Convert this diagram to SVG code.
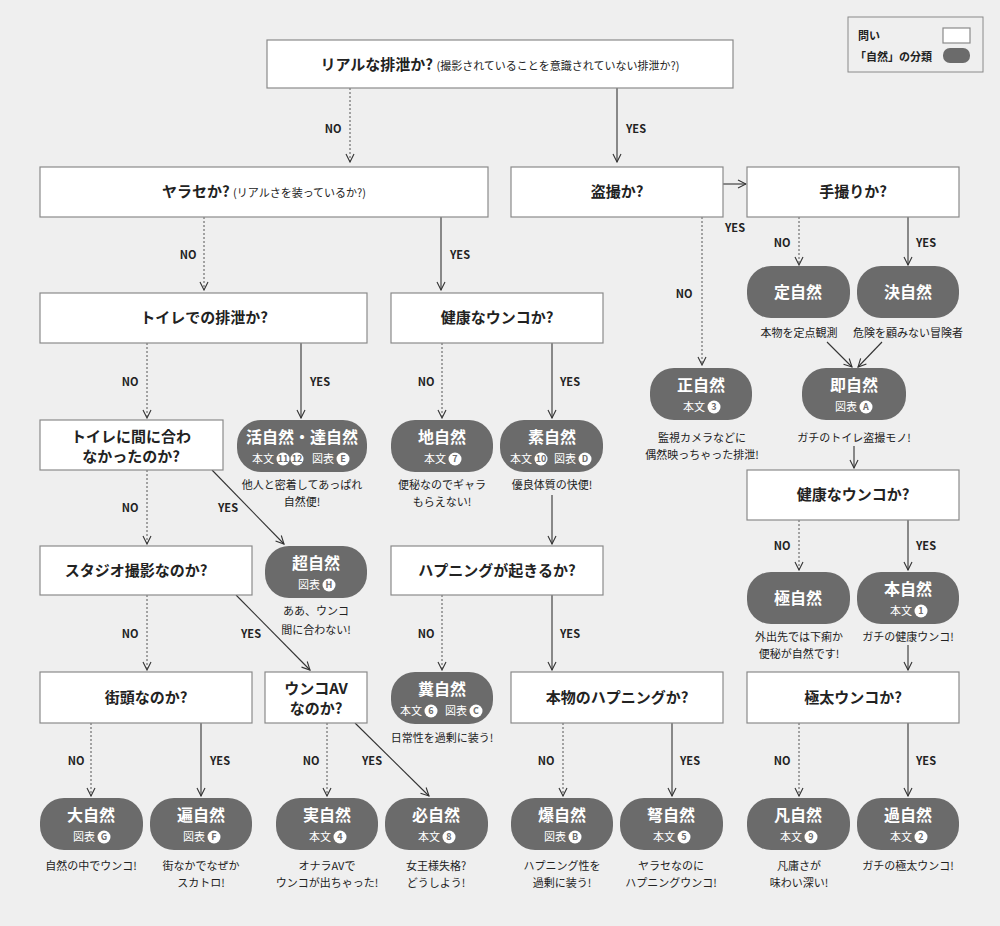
<svg xmlns="http://www.w3.org/2000/svg" width="1000" height="926" viewBox="0 0 1000 926">
<defs>
<marker id="ah" markerWidth="10" markerHeight="10" refX="9" refY="5" orient="auto" markerUnits="userSpaceOnUse"><path d="M1,1 L9,5 L1,9" fill="none" stroke="#333" stroke-width="1.1"/></marker>
<style>
text{font-family:"Noto Sans CJK JP","Noto Sans",sans-serif}
.q{fill:#fff;stroke:#8a8a8a;stroke-width:1.2}
.p{fill:#6b6b6b}
.qt{font-size:15px;font-weight:bold;fill:#222;text-anchor:middle}
.qs{font-size:11px;fill:#222}
.pt{font-size:16px;font-weight:bold;fill:#fff;text-anchor:middle}
.ps{font-size:11px;fill:#fff;text-anchor:middle}
.cn{font-size:9px;font-weight:bold;fill:#6b6b6b;text-anchor:middle}
.cap{font-size:11px;fill:#222;text-anchor:middle}
.lb{font-size:11px;font-weight:bold;fill:#222;text-anchor:middle}
.s{stroke:#333;stroke-width:1.1;fill:none;marker-end:url(#ah)}
.d{stroke:#555;stroke-width:1;stroke-dasharray:2,2;fill:none;marker-end:url(#ah)}
</style>
</defs>
<rect width="1000" height="926" fill="#efefef"/>
<g id="legend">
<rect x="848" y="17" width="135" height="55" fill="#efefef" stroke="#8a8a8a"/>
<text x="858" y="40" class="qs" font-weight="bold">問い</text>
<rect x="943" y="28" width="27" height="15" class="q"/>
<text x="855" y="61" class="qs" font-weight="bold">「自然」の分類</text>
<rect x="943" y="48" width="27" height="15" rx="7" class="p"/>
</g>
<g id="connectors">
<path class="d" d="M350,88V162"/><path class="s" d="M617,88V162"/>
<path class="s" d="M723,184H746"/>
<path class="d" d="M204,217V290"/><path class="s" d="M441,217V290"/>
<path class="d" d="M702,217V365"/>
<path class="d" d="M799,217V265"/><path class="s" d="M908,217V265"/>
<path class="s" d="M827,342L852,367"/><path class="s" d="M882,342L858,367"/>
<path class="d" d="M147,343V418"/><path class="s" d="M301,343V418"/>
<path class="d" d="M442,343V418"/><path class="s" d="M552,343V418"/>
<path class="s" d="M854,446V468"/>
<path class="d" d="M147,470V544"/><path class="s" d="M212,470L284,544"/>
<path class="s" d="M552,495V544"/>
<path class="d" d="M799,520V570"/><path class="s" d="M908,520V570"/>
<path class="d" d="M147,595V670"/><path class="s" d="M236,595L310,670"/>
<path class="d" d="M442,595V670"/><path class="s" d="M552,595V670"/>
<path class="s" d="M908,645V670"/>
<path class="d" d="M91,723V796"/><path class="s" d="M201,723V796"/>
<path class="d" d="M327,723V796"/><path class="s" d="M355,723L429,796"/>
<path class="d" d="M563,723V796"/><path class="s" d="M672,723V796"/>
<path class="d" d="M799,723V796"/><path class="s" d="M908,723V796"/>
<g class="lb">
<text x="333" y="133">NO</text><text x="636" y="133">YES</text>
<text x="188" y="259">NO</text><text x="460" y="259">YES</text>
<text x="735" y="232">YES</text><text x="684" y="298">NO</text>
<text x="782" y="247">NO</text><text x="926" y="247">YES</text>
<text x="130" y="386">NO</text><text x="320" y="386">YES</text>
<text x="426" y="386">NO</text><text x="570" y="386">YES</text>
<text x="130" y="512">NO</text><text x="228" y="512">YES</text>
<text x="782" y="550">NO</text><text x="926" y="550">YES</text>
<text x="130" y="638">NO</text><text x="251" y="638">YES</text>
<text x="426" y="638">NO</text><text x="570" y="638">YES</text>
<text x="76" y="765">NO</text><text x="220" y="765">YES</text>
<text x="311" y="765">NO</text><text x="372" y="765">YES</text>
<text x="546" y="765">NO</text><text x="690" y="765">YES</text>
<text x="782" y="765">NO</text><text x="926" y="765">YES</text>
</g>
</g>
<g id="q1"><rect x="267" y="40" width="466" height="48" class="q"/><text x="500" y="70" class="qt">リアルな排泄か? <tspan class="qs" font-weight="normal">(撮影されていることを意識されていない排泄か?)</tspan></text></g>
<g id="q2"><rect x="40" y="167" width="448" height="50" class="q"/><text x="264" y="197" class="qt">ヤラセか? <tspan class="qs" font-weight="normal">(リアルさを装っているか?)</tspan></text></g>
<g id="q3"><rect x="511" y="167" width="212" height="50" class="q"/><text x="617" y="197" class="qt">盗撮か?</text></g>
<g id="q4"><rect x="747" y="167" width="212" height="50" class="q"/><text x="853" y="197" class="qt">手撮りか?</text></g>
<g id="q5"><rect x="40" y="293" width="327" height="50" class="q"/><text x="204" y="323" class="qt">トイレでの排泄か?</text></g>
<g id="q6"><rect x="391" y="293" width="212" height="50" class="q"/><text x="497" y="323" class="qt">健康なウンコか?</text></g>
<g id="q7"><rect x="40" y="420" width="183" height="50" class="q"/><text x="131" y="442" class="qt">トイレに間に合わ</text><text x="131" y="462" class="qt">なかったのか?</text></g>
<g id="q8"><rect x="747" y="470" width="212" height="50" class="q"/><text x="853" y="500" class="qt">健康なウンコか?</text></g>
<g id="q9"><rect x="40" y="546" width="212" height="49" class="q"/><text x="136" y="576" class="qt">スタジオ撮影なのか?</text></g>
<g id="q10"><rect x="391" y="546" width="212" height="49" class="q"/><text x="497" y="576" class="qt">ハプニングが起きるか?</text></g>
<g id="q11"><rect x="40" y="672" width="212" height="51" class="q"/><text x="146" y="703" class="qt">街頭なのか?</text></g>
<g id="q12"><rect x="265" y="672" width="102" height="51" class="q"/><text x="316" y="694" class="qt">ウンコAV</text><text x="316" y="714" class="qt">なのか?</text></g>
<g id="q13"><rect x="511" y="672" width="212" height="51" class="q"/><text x="617" y="703" class="qt">本物のハプニングか?</text></g>
<g id="q14"><rect x="747" y="672" width="212" height="51" class="q"/><text x="853" y="703" class="qt">極太ウンコか?</text></g>

<g id="n-tei"><rect x="747" y="266" width="103" height="52" rx="24" class="p"/><text x="798" y="298" class="pt">定自然</text><text x="799" y="337" class="cap">本物を定点観測</text></g>
<g id="n-ketsu"><rect x="857" y="266" width="102" height="52" rx="24" class="p"/><text x="908" y="298" class="pt">決自然</text><text x="908" y="337" class="cap">危険を顧みない冒険者</text></g>
<g id="n-sei"><rect x="650" y="368" width="102" height="52" rx="24" class="p"/><text x="701" y="391" class="pt">正自然</text><text x="694" y="411" class="ps">本文</text><circle cx="714" cy="407" r="6.5" fill="#fff"/><text x="714" y="410" class="cn">3</text>
<text x="702" y="442" class="cap">監視カメラなどに</text><text x="702" y="459" class="cap">偶然映っちゃった排泄!</text></g>
<g id="n-soku"><rect x="802" y="368" width="104" height="52" rx="24" class="p"/><text x="854" y="391" class="pt">即自然</text><text x="846" y="411" class="ps">図表</text><circle cx="866" cy="407" r="6.5" fill="#fff"/><text x="866" y="410" class="cn">A</text>
<text x="854" y="442" class="cap">ガチのトイレ盗撮モノ!</text></g>
<g id="n-katsu"><rect x="237" y="420" width="130" height="52" rx="24" class="p"/><text x="302" y="443" class="pt">活自然・達自然</text><text x="263" y="463" class="ps">本文</text><circle cx="283" cy="459" r="6.5" fill="#fff"/><text x="283" y="462" class="cn">11</text><circle cx="297" cy="459" r="6.5" fill="#fff"/><text x="297" y="462" class="cn">12</text><text x="323" y="463" class="ps">図表</text><circle cx="343" cy="459" r="6.5" fill="#fff"/><text x="343" y="462" class="cn">E</text>
<text x="302" y="489" class="cap">他人と密着してあっぱれ</text><text x="302" y="506" class="cap">自然便!</text></g>
<g id="n-ji"><rect x="391" y="420" width="102" height="52" rx="24" class="p"/><text x="442" y="443" class="pt">地自然</text><text x="435" y="463" class="ps">本文</text><circle cx="455" cy="459" r="6.5" fill="#fff"/><text x="455" y="462" class="cn">7</text>
<text x="442" y="489" class="cap">便秘なのでギャラ</text><text x="442" y="506" class="cap">もらえない!</text></g>
<g id="n-so"><rect x="500" y="420" width="103" height="52" rx="24" class="p"/><text x="552" y="443" class="pt">素自然</text><text x="521" y="463" class="ps">本文</text><circle cx="541" cy="459" r="6.5" fill="#fff"/><text x="541" y="462" class="cn">10</text><text x="565" y="463" class="ps">図表</text><circle cx="585" cy="459" r="6.5" fill="#fff"/><text x="585" y="462" class="cn">D</text>
<text x="552" y="489" class="cap">優良体質の快便!</text></g>
<g id="n-cho"><rect x="265" y="546" width="102" height="52" rx="24" class="p"/><text x="316" y="569" class="pt">超自然</text><text x="309" y="589" class="ps">図表</text><circle cx="329" cy="585" r="6.5" fill="#fff"/><text x="329" y="588" class="cn">H</text>
<text x="316" y="615" class="cap">ああ、ウンコ</text><text x="316" y="634" class="cap">間に合わない!</text></g>
<g id="n-goku"><rect x="747" y="572" width="103" height="52" rx="24" class="p"/><text x="798" y="604" class="pt">極自然</text>
<text x="799" y="641" class="cap">外出先では下痢か</text><text x="799" y="658" class="cap">便秘が自然です!</text></g>
<g id="n-hon"><rect x="857" y="572" width="102" height="52" rx="24" class="p"/><text x="908" y="595" class="pt">本自然</text><text x="901" y="615" class="ps">本文</text><circle cx="921" cy="611" r="6.5" fill="#fff"/><text x="921" y="614" class="cn">1</text>
<text x="908" y="641" class="cap">ガチの健康ウンコ!</text></g>
<g id="n-fun"><rect x="391" y="672" width="102" height="52" rx="24" class="p"/><text x="442" y="695" class="pt">糞自然</text><text x="411" y="715" class="ps">本文</text><circle cx="431" cy="711" r="6.5" fill="#fff"/><text x="431" y="714" class="cn">6</text><text x="456" y="715" class="ps">図表</text><circle cx="476" cy="711" r="6.5" fill="#fff"/><text x="476" y="714" class="cn">C</text>
<text x="442" y="742" class="cap">日常性を過剰に装う!</text></g>
<g id="n-dai"><rect x="40" y="798" width="103" height="52" rx="24" class="p"/><text x="91" y="821" class="pt">大自然</text><text x="84" y="841" class="ps">図表</text><circle cx="104" cy="837" r="6.5" fill="#fff"/><text x="104" y="840" class="cn">G</text>
<text x="91" y="870" class="cap">自然の中でウンコ!</text></g>
<g id="n-hen"><rect x="150" y="798" width="102" height="52" rx="24" class="p"/><text x="201" y="821" class="pt">遍自然</text><text x="194" y="841" class="ps">図表</text><circle cx="214" cy="837" r="6.5" fill="#fff"/><text x="214" y="840" class="cn">F</text>
<text x="201" y="870" class="cap">街なかでなぜか</text><text x="201" y="887" class="cap">スカトロ!</text></g>
<g id="n-jitsu"><rect x="276" y="798" width="102" height="52" rx="24" class="p"/><text x="327" y="821" class="pt">実自然</text><text x="320" y="841" class="ps">本文</text><circle cx="340" cy="837" r="6.5" fill="#fff"/><text x="340" y="840" class="cn">4</text>
<text x="327" y="870" class="cap">オナラAVで</text><text x="327" y="887" class="cap">ウンコが出ちゃった!</text></g>
<g id="n-hitsu"><rect x="385" y="798" width="103" height="52" rx="24" class="p"/><text x="436" y="821" class="pt">必自然</text><text x="429" y="841" class="ps">本文</text><circle cx="449" cy="837" r="6.5" fill="#fff"/><text x="449" y="840" class="cn">8</text>
<text x="436" y="870" class="cap">女王様失格?</text><text x="436" y="887" class="cap">どうしよう!</text></g>
<g id="n-baku"><rect x="511" y="798" width="102" height="52" rx="24" class="p"/><text x="562" y="821" class="pt">爆自然</text><text x="555" y="841" class="ps">図表</text><circle cx="575" cy="837" r="6.5" fill="#fff"/><text x="575" y="840" class="cn">B</text>
<text x="562" y="870" class="cap">ハプニング性を</text><text x="562" y="887" class="cap">過剰に装う!</text></g>
<g id="n-do"><rect x="620" y="798" width="103" height="52" rx="24" class="p"/><text x="671" y="821" class="pt">弩自然</text><text x="664" y="841" class="ps">本文</text><circle cx="684" cy="837" r="6.5" fill="#fff"/><text x="684" y="840" class="cn">5</text>
<text x="671" y="870" class="cap">ヤラセなのに</text><text x="671" y="887" class="cap">ハプニングウンコ!</text></g>
<g id="n-bon"><rect x="747" y="798" width="103" height="52" rx="24" class="p"/><text x="798" y="821" class="pt">凡自然</text><text x="791" y="841" class="ps">本文</text><circle cx="811" cy="837" r="6.5" fill="#fff"/><text x="811" y="840" class="cn">9</text>
<text x="799" y="870" class="cap">凡庸さが</text><text x="799" y="887" class="cap">味わい深い!</text></g>
<g id="n-ka"><rect x="857" y="798" width="102" height="52" rx="24" class="p"/><text x="908" y="821" class="pt">過自然</text><text x="901" y="841" class="ps">本文</text><circle cx="921" cy="837" r="6.5" fill="#fff"/><text x="921" y="840" class="cn">2</text>
<text x="908" y="870" class="cap">ガチの極太ウンコ!</text></g>
</svg>
